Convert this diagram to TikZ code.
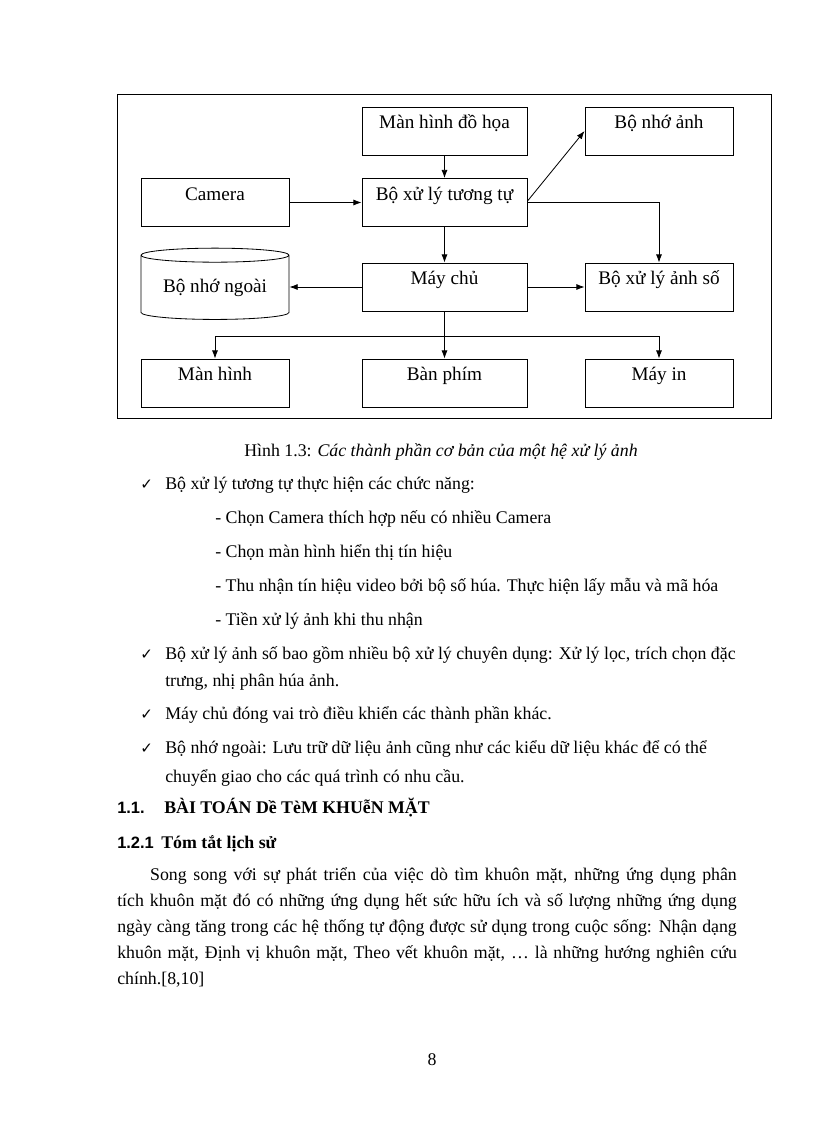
\documentclass[tikz,border=0pt]{standalone}
\usepackage{fontspec}
\setmainfont{Liberation Serif}
\newfontfamily\numfont{Liberation Sans}
\newfontfamily\symfont{DejaVu Sans}
\usetikzlibrary{shapes.geometric,arrows.meta,positioning}

\begin{document}
\begin{tikzpicture}[
    x=0.7295pt, y=-0.7295pt,
    font=\fontsize{14}{16}\selectfont,
    box/.style={rectangle, draw, line width=0.6pt, minimum width=#1,
                inner sep=0pt, text height=16pt, text depth=19pt, align=center},
    box/.default=108pt,
    store/.style={cylinder, shape border rotate=90, aspect=0.135, draw,
                  line width=0.6pt, minimum width=108pt, minimum height=52pt,
                  inner sep=0pt},
    arrow/.style={-{Latex[length=6pt,width=4.4pt]}, line width=0.6pt},
    body/.style={anchor=base west, inner sep=0pt, font=\fontsize{13}{19}\selectfont},
    tick/.style={anchor=base west, inner sep=0pt, font=\symfont\fontsize{11}{13}\selectfont}
]
\useasboundingbox (0,0) rectangle (816,1123);

% Frame round the figure
\draw[line width=0.6pt] (117,94) rectangle (771,418);

% Row 1
\node[box=120.4pt] (dohoa) at (444.5,131) {Màn hình đồ họa};
\node[box] (nhoanh) at (659,131) {Bộ nhớ ảnh};

% Row 2
\node[box] (camera) at (215,202.5) {Camera};
\node[box=120.4pt] (tuongtu) at (444.5,202.5) {Bộ xử lý tương tự};

% Row 3
\node[store] (nhongoai) at (215,287.5) {Bộ nhớ ngoài};
\node[box=120.4pt] (maychu) at (444.5,287) {Máy chủ};
\node[box] (anhso) at (659,287) {Bộ xử lý ảnh số};

% Row 4
\node[box] (manhinh) at (215,383) {Màn hình};
\node[box=120.4pt] (banphim) at (444.5,383) {Bàn phím};
\node[box] (mayin) at (659,383) {Máy in};

% Arrows
\draw[arrow] (dohoa.south) -- (tuongtu.north);
\draw[arrow] (camera.east) -- (tuongtu.west);
\draw[arrow] (tuongtu.south) -- (maychu.north);
\draw[arrow] (tuongtu.east) -| (anhso.north);
\draw[arrow] ([yshift=1pt]tuongtu.east) -- (nhoanh.west);
\draw[arrow] (maychu.west) -- (maychu.west -| nhongoai.east);
\draw[arrow] (maychu.east) -- (anhso.west);
\draw[arrow] (maychu.south) -- (banphim.north);
\draw[arrow] (maychu.south) -- ++(0,25) -| (manhinh.north);
\draw[arrow] (maychu.south) -- ++(0,25) -| (mayin.north);

% Caption
\node[body, anchor=base] (caption) at (441,456)
    {Hình 1.3: \textit{Các thành phần cơ bản của một hệ xử lý ảnh}};

% Bullets
\node[tick] (t1) at (140,489) {✓};
\node[body] (b1) at (165,489) {Bộ xử lý tương tự thực hiện các chức năng:};
\node[body] (d1) at (215,523) {- Chọn Camera thích hợp nếu có nhiều Camera};
\node[body] (d2) at (215,557) {- Chọn màn hình hiển thị tín hiệu};
\node[body] (d3) at (215,591) {- Thu nhận tín hiệu video bởi bộ số húa. Thực hiện lấy mẫu và mã hóa};
\node[body] (d4) at (215,625) {- Tiền xử lý ảnh khi thu nhận};
\node[tick] (t2) at (140,659) {✓};
\node[body] (b2) at (165,659) {Bộ xử lý ảnh số bao gồm nhiều bộ xử lý chuyên dụng: Xử lý lọc, trích chọn đặc};
\node[body] (b2b) at (165,686) {trưng, nhị phân húa ảnh.};
\node[tick] (t3) at (140,719) {✓};
\node[body] (b3) at (165,719) {Máy chủ đóng vai trò điều khiển các thành phần khác.};
\node[tick] (t4) at (140,753) {✓};
\node[body] (b4) at (165,753) {Bộ nhớ ngoài: Lưu trữ dữ liệu ảnh cũng như các kiểu dữ liệu khác để có thể};
\node[body] (b4b) at (165,782) {chuyển giao cho các quá trình có nhu cầu.};

% Headings
\node[body, font=\numfont\bfseries\fontsize{12}{14}\selectfont] (h1n) at (117,813) {1.1.};
\node[body, font=\bfseries\fontsize{13}{19}\selectfont] (h1) at (164,813) {BÀI TOÁN Dề TèM KHUễN MẶT};
\node[body, font=\numfont\bfseries\fontsize{12}{14}\selectfont] (h2n) at (117,848) {1.2.1};
\node[body, font=\bfseries\fontsize{13}{19}\selectfont] (h2) at (161,848) {Tóm tắt lịch sử};

% Paragraph
\node[body, text width=452pt, align=justify] (para) at (117,880)
    {\hspace*{24pt}Song song với sự phát triển của việc dò tìm khuôn mặt, những ứng dụng phân\linebreak
     tích khuôn mặt đó có những ứng dụng hết sức hữu ích và số lượng những ứng dụng\linebreak
     ngày càng tăng trong các hệ thống tự động được sử dụng trong cuộc sống: Nhận dạng\linebreak
     khuôn mặt, Định vị khuôn mặt, Theo vết khuôn mặt, … là những hướng nghiên cứu\linebreak
     chính.[8,10]};

% Page number
\node[body, anchor=base] (page) at (432,1065) {8};
\end{tikzpicture}
\end{document}
